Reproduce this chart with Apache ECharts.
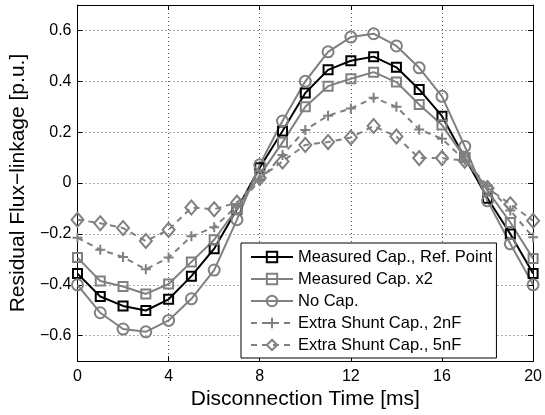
<!DOCTYPE html>
<html>
<head>
<meta charset="utf-8">
<script src="https://cdn.jsdelivr.net/npm/echarts@6/dist/echarts.min.js"></script>
<style>
  html, body { margin: 0; padding: 0; background: #fff; }
  #chart { width: 545px; height: 415px; }
</style>
</head>
<body>
<div id="chart"></div>
<script>
// Disconnection time instants [ms]
const times = [0, 1, 2, 3, 4, 5, 6, 7, 8, 9, 10, 11, 12, 13, 14, 15, 16, 17, 18, 19, 20];

// Residual flux-linkage [p.u.] for each case
const refPoint = [-0.356, -0.446, -0.483, -0.501, -0.457, -0.366, -0.258, -0.103, 0.06, 0.205, 0.354,
                  0.445, 0.481, 0.497, 0.455, 0.368, 0.263, 0.10, -0.06, -0.20, -0.356];
const capX2    = [-0.293, -0.385, -0.407, -0.436, -0.397, -0.31, -0.223, -0.10, 0.03, 0.16, 0.30,
                  0.381, 0.41, 0.436, 0.397, 0.309, 0.228, 0.10, -0.03, -0.155, -0.297];
const noCap    = [-0.40, -0.51, -0.574, -0.585, -0.54, -0.455, -0.342, -0.144, 0.072, 0.244, 0.40,
                  0.516, 0.574, 0.587, 0.539, 0.453, 0.341, 0.144, -0.07, -0.239, -0.40];
const shunt2nF = [-0.215, -0.262, -0.291, -0.339, -0.293, -0.209, -0.174, -0.09, 0.01, 0.11, 0.209,
                  0.265, 0.293, 0.335, 0.30, 0.211, 0.174, 0.09, -0.01, -0.108, -0.213];
const shunt5nF = [-0.144, -0.158, -0.177, -0.228, -0.184, -0.096, -0.103, -0.077, 0.02, 0.085, 0.15,
                  0.161, 0.179, 0.224, 0.183, 0.098, 0.098, 0.088, -0.02, -0.083, -0.148];

const seriesNames = [
  'Measured Cap., Ref. Point',
  'Measured Cap. x2',
  'No Cap.',
  'Extra Shunt Cap., 2nF',
  'Extra Shunt Cap., 5nF'
];

// Axis ticks
const xTicks = { min: 0, max: 20, interval: 4 };
const yRange = { min: -0.7, max: 0.7 };

const FONT = '"Liberation Sans", Arial, Helvetica, sans-serif';
const BLACK = '#000000';
const GRAY = '#808080';
const PLUS = 'path://M5,0L5,10M0,5L10,5';

function pairs(ys) { return times.map((t, i) => [t, ys[i]]); }

function lineSeries(name, ys, color, symbol, size, dashed) {
  return {
    name: name,
    type: 'line',
    data: pairs(ys),
    symbol: symbol,
    symbolSize: size,
    showAllSymbol: true,
    lineStyle: { color: color, width: 2, type: dashed ? [6, 5] : 'solid' },
    itemStyle: { color: 'rgba(0,0,0,0)', borderColor: color, borderWidth: 2 },
    emphasis: { disabled: true },
    animation: false
  };
}

function yFmt(v) {
  if (Math.abs(Math.abs(v) - 0.7) < 1e-9) return '';
  if (Math.abs(v) < 1e-9) return '0';
  return (v < 0 ? '\u2212' : '') + Math.abs(v).toFixed(1);
}

const axisLine = { show: true, onZero: false, lineStyle: { color: '#000', width: 1 } };
const tickIn = { show: true, inside: true, length: 5, lineStyle: { color: '#000', width: 1 } };
const grid = { show: true, lineStyle: { color: '#555', width: 1, type: [1, 3] } };

const chart = echarts.init(document.getElementById('chart'), null, { renderer: 'canvas' });
chart.setOption({
  animation: false,
  backgroundColor: '#fff',
  grid: { left: 77, right: 11, top: 5, bottom: 50, containLabel: false },
  legend: {
    orient: 'vertical',
    left: 241,
    top: 243,
    padding: [4, 4, 3, 9],
    itemWidth: 42,
    itemHeight: 13,
    itemGap: 2,
    backgroundColor: '#fff',
    borderColor: '#000',
    borderWidth: 1,
    borderRadius: 0,
    selectedMode: false,
    textStyle: { fontFamily: FONT, fontSize: 16.5, color: '#000', lineHeight: 20 },
    data: seriesNames
  },
  xAxis: [
    {
      type: 'value', min: xTicks.min, max: xTicks.max, interval: xTicks.interval,
      name: 'Disconnection Time [ms]', nameLocation: 'middle', nameGap: 23,
      nameTextStyle: { fontFamily: FONT, fontSize: 21, color: '#000' },
      axisLine: axisLine, axisTick: tickIn, splitLine: grid,
      axisLabel: { fontFamily: FONT, fontSize: 16, color: '#000', margin: 7 }
    },
    {
      type: 'value', position: 'top', min: xTicks.min, max: xTicks.max, interval: xTicks.interval,
      axisLine: axisLine, axisTick: tickIn, splitLine: { show: false }, axisLabel: { show: false }
    }
  ],
  yAxis: [
    {
      type: 'value', min: yRange.min, max: yRange.max, splitNumber: 7,
      name: 'Residual Flux\u2212linkage [p.u.]', nameLocation: 'middle', nameGap: 47,
      nameTextStyle: { fontFamily: FONT, fontSize: 21, color: '#000' },
      axisLine: axisLine, axisTick: tickIn, splitLine: grid,
      axisLabel: { fontFamily: FONT, fontSize: 16, color: '#000', margin: 6, formatter: yFmt,
                   showMinLabel: false, showMaxLabel: false }
    },
    {
      type: 'value', position: 'right', min: yRange.min, max: yRange.max, splitNumber: 7,
      axisLine: axisLine, axisTick: tickIn, splitLine: { show: false }, axisLabel: { show: false }
    }
  ],
  series: [
    lineSeries(seriesNames[0], refPoint, BLACK, 'rect', 9, false),
    lineSeries(seriesNames[1], capX2, GRAY, 'rect', 9, false),
    lineSeries(seriesNames[2], noCap, GRAY, 'circle', 11, false),
    lineSeries(seriesNames[3], shunt2nF, GRAY, PLUS, 10, true),
    lineSeries(seriesNames[4], shunt5nF, GRAY, 'diamond', [12, 14], true)
  ]
});
</script>
</body>
</html>
